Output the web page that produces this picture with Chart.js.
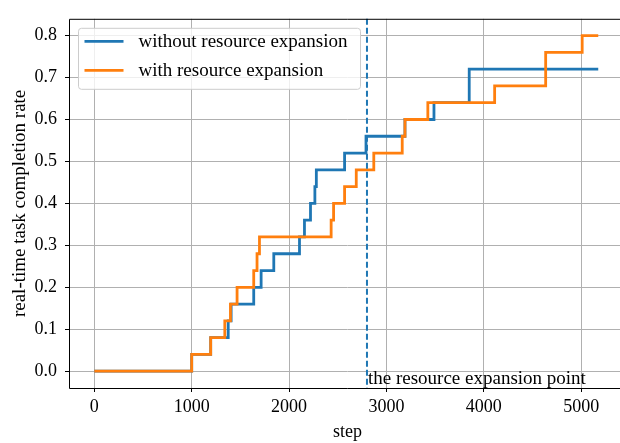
<!DOCTYPE html>
<html>
<head>
<meta charset="utf-8">
<script src="https://cdn.jsdelivr.net/npm/chart.js@4/dist/chart.umd.min.js"></script>
<style>
  html, body { margin: 0; padding: 0; background: #fff; overflow: hidden; }
  #wrap { width: 640px; height: 443px; position: relative; }
</style>
</head>
<body>
<div id="wrap"><canvas id="chart"></canvas></div>
<script>
// step at which the completion rate changes, and the new rate from that step on
const stepsWithout = [0, 1000, 1195, 1375, 1405, 1637, 1713, 1843, 2107, 2158, 2220, 2265, 2280, 2570, 2790, 3190, 3488, 3850, 5175];
const rateWithout = [0, 0.04, 0.08, 0.12, 0.16, 0.2, 0.24, 0.28, 0.32, 0.36, 0.4, 0.44, 0.48, 0.52, 0.56, 0.6, 0.64, 0.72, 0.72];

const stepsWith = [0, 1000, 1195, 1340, 1398, 1466, 1637, 1671, 1696, 2432, 2457, 2570, 2690, 2870, 3162, 3190, 3425, 4111, 4635, 5010, 5175];
const rateWith = [0, 0.04, 0.08, 0.12, 0.16, 0.2, 0.24, 0.28, 0.32, 0.36, 0.4, 0.44, 0.48, 0.52, 0.56, 0.6, 0.64, 0.68, 0.76, 0.8, 0.8];

const seriesLabels = ["without resource expansion", "with resource expansion"];
const seriesColors = ["#1f77b4", "#ff7f0e"];

const expansionStep = 2800;
const expansionText = "the resource expansion point";

const xTicks = [0, 1000, 2000, 3000, 4000, 5000];
const yTicks = [0, 0.1, 0.2, 0.3, 0.4, 0.5, 0.6, 0.7, 0.8];

const SERIF = "'Liberation Serif', 'Times New Roman', serif";

const toPoints = (xs, ys) => xs.map((x, i) => ({ x, y: ys[i] }));

// frame, dashed marker line, annotation and legend box
const extras = {
  id: "extras",
  afterDatasetsDraw(chart) {
    const { ctx, chartArea: a, scales } = chart;
    const xp = scales.x.getPixelForValue(expansionStep);
    ctx.save();
    ctx.strokeStyle = seriesColors[0];
    ctx.lineWidth = 2;
    ctx.setLineDash([6, 3]);
    ctx.beginPath();
    ctx.moveTo(xp, a.top);
    ctx.lineTo(xp, a.bottom);
    ctx.stroke();
    ctx.restore();

    ctx.save();
    ctx.fillStyle = "#000";
    ctx.font = "19px " + SERIF;
    ctx.textBaseline = "alphabetic";
    ctx.fillText(expansionText, xp + 1, scales.y.getPixelForValue(0) + 13);
    ctx.restore();
  },
  afterDraw(chart) {
    const { ctx, chartArea: a } = chart;
    ctx.save();
    ctx.strokeStyle = "#000";
    ctx.lineWidth = 1;
    ctx.beginPath();
    ctx.moveTo(a.right, a.top + 0.5);
    ctx.lineTo(a.left + 0.5, a.top + 0.5);
    ctx.lineTo(a.left + 0.5, a.bottom + 0.5);
    ctx.lineTo(a.right, a.bottom + 0.5);
    ctx.stroke();

    // legend
    const bx = a.left + 9.5, by = a.top + 9.5, bw = 282, bh = 61;
    ctx.beginPath();
    ctx.roundRect(bx, by, bw, bh, 3);
    ctx.fillStyle = "rgba(255,255,255,0.8)";
    ctx.fill();
    ctx.strokeStyle = "#cccccc";
    ctx.stroke();
    ctx.font = "19px " + SERIF;
    ctx.textBaseline = "middle";
    seriesLabels.forEach((lab, i) => {
      const y = by + 13 + i * 29;
      ctx.strokeStyle = seriesColors[i];
      ctx.lineWidth = 2.8;
      ctx.beginPath();
      ctx.moveTo(bx + 6, y);
      ctx.lineTo(bx + 45, y);
      ctx.stroke();
      ctx.fillStyle = "#000";
      ctx.fillText(lab, bx + 60, y + 1);
    });
    ctx.restore();
  },
};

new Chart(document.getElementById("chart"), {
  type: "line",
  data: {
    datasets: [
      {
        label: seriesLabels[0],
        data: toPoints(stepsWithout, rateWithout),
        borderColor: seriesColors[0],
        backgroundColor: seriesColors[0],
        borderWidth: 2.8,
        stepped: true,
        pointRadius: 0,
        order: 1,
      },
      {
        label: seriesLabels[1],
        data: toPoints(stepsWith, rateWith),
        borderColor: seriesColors[1],
        backgroundColor: seriesColors[1],
        borderWidth: 2.8,
        stepped: true,
        pointRadius: 0,
        order: 0,
      },
    ],
  },
  options: {
    responsive: true,
    maintainAspectRatio: false,
    animation: false,
    // canvas is a little wider than the window, so the plot runs off the right edge
    layout: { padding: { top: 11, right: 14, left: 0, bottom: 0 } },
    scales: {
      x: {
        type: "linear",
        min: -260,
        max: 5460,
        afterFit: (s) => { s.height = 55; },
        afterBuildTicks: (s) => { s.ticks = xTicks.map((v) => ({ value: v })); },
        ticks: {
          color: "#000",
          padding: 4,
          font: { family: SERIF, size: 18 },
          callback: (v) => String(v),
        },
        grid: { color: "#b0b0b0", lineWidth: 1, tickLength: 4, tickColor: "#000" },
        border: { display: false },
        title: {
          display: true,
          text: "step",
          color: "#000",
          padding: { top: 0, bottom: 0 },
          font: { family: SERIF, size: 18 },
        },
      },
      y: {
        min: -0.04,
        max: 0.84,
        afterFit: (s) => { s.width = 69; },
        afterBuildTicks: (s) => { s.ticks = yTicks.map((v) => ({ value: v })); },
        ticks: {
          color: "#000",
          padding: 8,
          font: { family: SERIF, size: 18 },
          callback: (v) => Number(v).toFixed(1),
        },
        grid: { color: "#b0b0b0", lineWidth: 1, tickLength: 4, tickColor: "#000" },
        border: { display: false },
        title: {
          display: true,
          text: "real-time task completion rate",
          color: "#000",
          padding: { top: 9, bottom: 0 },
          font: { family: SERIF, size: 19 },
        },
      },
    },
    plugins: {
      legend: { display: false },
      tooltip: { enabled: false },
    },
  },
  plugins: [extras],
});
</script>
</body>
</html>
